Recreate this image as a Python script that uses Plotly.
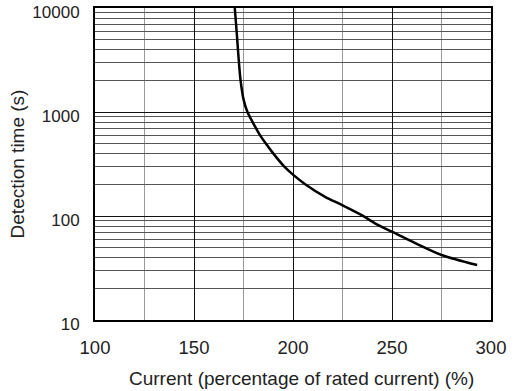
import plotly.graph_objects as go

# Data
current_pct = [170.6, 171.6, 172.6, 173.5, 175.1, 177.0, 179.6, 183.3, 186.2, 190.0, 195.5, 200.0, 206.5, 216.2, 224.6, 234.7, 241.4, 250.0, 262.0, 275.0, 293.0]
detect_time = [10000, 5720, 3160, 2030, 1300, 1000, 800, 600, 500, 400, 300, 250, 200, 153, 128, 102, 85, 70.6, 54.6, 42.2, 33.8]

x_ticks = [100, 150, 200, 250, 300]
x_minor = [125, 175, 225, 275]
y_ticks = [10, 100, 1000, 10000]
y_minor = [m * d for d in (10, 100, 1000) for m in range(2, 10)]

x_title = "Current (percentage of rated current) (%)"
y_title = "Detection time (s)"

font_family = "Liberation Sans, Arial, sans-serif"

fig = go.Figure()
fig.add_trace(go.Scatter(
    x=current_pct, y=detect_time, mode="lines",
    line=dict(color="black", width=2.5, shape="spline", smoothing=0.8),
    showlegend=False, hoverinfo="skip",
))

fig.update_layout(
    width=516, height=391,
    margin=dict(l=95, r=25, t=8, b=71),
    paper_bgcolor="white", plot_bgcolor="white",
    font=dict(family=font_family, size=18, color="#222"),
)

fig.update_xaxes(
    range=[100, 300], tickvals=x_ticks, automargin=False,
    tickfont=dict(size=18.5),
    showgrid=True, gridcolor="#111", gridwidth=1,
    minor=dict(tickvals=x_minor, showgrid=True, gridcolor="#999", gridwidth=1),
    showline=True, linecolor="black", linewidth=2, mirror=True,
    ticks="", ticklabelstandoff=10, zeroline=False, ticklabeloverflow="allow",
)
fig.update_yaxes(
    type="log", range=[1, 4], tickvals=y_ticks, ticktext=[str(v) for v in y_ticks],
    automargin=False, tickfont=dict(size=17),
    showgrid=True, gridcolor="#111", gridwidth=1,
    minor=dict(tickvals=y_minor, showgrid=True, gridcolor="#555", gridwidth=1),
    showline=True, linecolor="black", linewidth=2, mirror=True,
    ticks="", ticklabelstandoff=10, ticklabelshift=4, zeroline=False, ticklabeloverflow="allow",
    title=dict(text=y_title, font=dict(size=19), standoff=3),
)

fig.add_annotation(
    text=x_title, xref="paper", yref="paper", x=0.5, y=0,
    xanchor="center", yanchor="middle", xshift=8, yshift=-58,
    showarrow=False, font=dict(size=19, color="#222"),
)

fig.write_html("out.html", config={"displayModeBar": False},
               post_script="document.body.style.margin='0';")
